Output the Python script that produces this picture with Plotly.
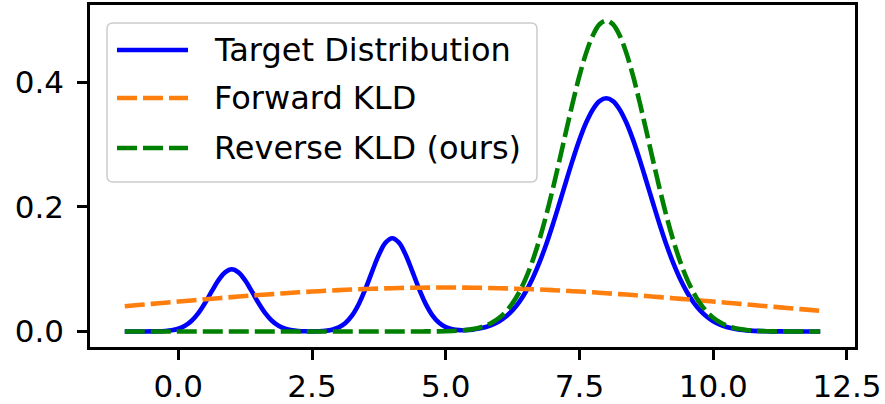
import plotly.graph_objects as go

# ---- data ----
# fine grid (step 1/8) for the target and reverse-KLD curves
x_fine = [-1.0, -0.875, -0.75, -0.625, -0.5, -0.375, -0.25, -0.125,
          0.0, 0.125, 0.25, 0.375, 0.5, 0.625, 0.75, 0.875,
          1.0, 1.125, 1.25, 1.375, 1.5, 1.625, 1.75, 1.875,
          2.0, 2.125, 2.25, 2.375, 2.5, 2.625, 2.75, 2.875,
          3.0, 3.125, 3.25, 3.375, 3.5, 3.625, 3.75, 3.875,
          4.0, 4.125, 4.25, 4.375, 4.5, 4.625, 4.75, 4.875,
          5.0, 5.125, 5.25, 5.375, 5.5, 5.625, 5.75, 5.875,
          6.0, 6.125, 6.25, 6.375, 6.5, 6.625, 6.75, 6.875,
          7.0, 7.125, 7.25, 7.375, 7.5, 7.625, 7.75, 7.875,
          8.0, 8.125, 8.25, 8.375, 8.5, 8.625, 8.75, 8.875,
          9.0, 9.125, 9.25, 9.375, 9.5, 9.625, 9.75, 9.875,
          10.0, 10.125, 10.25, 10.375, 10.5, 10.625, 10.75, 10.875,
          11.0, 11.125, 11.25, 11.375, 11.5, 11.625, 11.75, 11.875,
          12.0]

target = [0.0, 0.0, 0.0, 0.0, 0.0001, 0.0003, 0.0008, 0.0019,
          0.0044, 0.0091, 0.0172, 0.0294, 0.0456, 0.0642, 0.0820, 0.0949,
          0.0997, 0.0949, 0.0820, 0.0642, 0.0456, 0.0294, 0.0172, 0.0091,
          0.0044, 0.0019, 0.0008, 0.0003, 0.0002, 0.0004, 0.0011, 0.0029,
          0.0066, 0.0137, 0.0258, 0.0441, 0.0685, 0.0964, 0.1231, 0.1425,
          0.1496, 0.1425, 0.1231, 0.0964, 0.0685, 0.0442, 0.0259, 0.0139,
          0.0069, 0.0035, 0.0021, 0.0021, 0.0029, 0.0046, 0.0072, 0.0110,
          0.0164, 0.0240, 0.0342, 0.0475, 0.0645, 0.0854, 0.1103, 0.1391,
          0.1712, 0.2056, 0.2410, 0.2756, 0.3077, 0.3351, 0.3562, 0.3695,
          0.3740, 0.3695, 0.3562, 0.3351, 0.3077, 0.2756, 0.2410, 0.2056,
          0.1712, 0.1391, 0.1103, 0.0854, 0.0645, 0.0475, 0.0342, 0.0240,
          0.0164, 0.0110, 0.0072, 0.0046, 0.0028, 0.0017, 0.0010, 0.0006,
          0.0003, 0.0002, 0.0001, 0.0001, 0.0, 0.0, 0.0, 0.0,
          0.0]

reverse = [0.0, 0.0, 0.0, 0.0, 0.0, 0.0, 0.0, 0.0,
           0.0, 0.0, 0.0, 0.0, 0.0, 0.0, 0.0, 0.0,
           0.0, 0.0, 0.0, 0.0, 0.0, 0.0, 0.0, 0.0,
           0.0, 0.0, 0.0, 0.0, 0.0, 0.0, 0.0, 0.0,
           0.0, 0.0, 0.0, 0.0, 0.0, 0.0, 0.0, 0.0,
           0.0, 0.0, 0.0, 0.0, 0.0, 0.0001, 0.0001, 0.0002,
           0.0004, 0.0008, 0.0014, 0.0023, 0.0038, 0.0061, 0.0096, 0.0147,
           0.0219, 0.0320, 0.0456, 0.0634, 0.0860, 0.1139, 0.1471, 0.1855,
           0.2283, 0.2742, 0.3214, 0.3675, 0.4102, 0.4468, 0.4749, 0.4927,
           0.4987, 0.4927, 0.4749, 0.4468, 0.4102, 0.3675, 0.3214, 0.2742,
           0.2283, 0.1855, 0.1471, 0.1139, 0.0860, 0.0634, 0.0456, 0.0320,
           0.0219, 0.0147, 0.0096, 0.0061, 0.0038, 0.0023, 0.0014, 0.0008,
           0.0004, 0.0002, 0.0001, 0.0001, 0.0, 0.0, 0.0, 0.0,
           0.0]

# coarser grid (step 1/4) for the broad forward-KLD curve
x_coarse = [-1.0, -0.75, -0.5, -0.25, 0.0, 0.25, 0.5, 0.75, 1.0, 1.25, 1.5, 1.75,
            2.0, 2.25, 2.5, 2.75, 3.0, 3.25, 3.5, 3.75, 4.0, 4.25, 4.5, 4.75,
            5.0, 5.25, 5.5, 5.75, 6.0, 6.25, 6.5, 6.75, 7.0, 7.25, 7.5, 7.75,
            8.0, 8.25, 8.5, 8.75, 9.0, 9.25, 9.5, 9.75, 10.0, 10.25, 10.5, 10.75,
            11.0, 11.25, 11.5, 11.75, 12.0]

forward = [0.0405, 0.0424, 0.0443, 0.0461, 0.0480, 0.0498, 0.0516, 0.0534, 0.0551,
           0.0568, 0.0584, 0.0599, 0.0614, 0.0628, 0.0640, 0.0652, 0.0663, 0.0673,
           0.0681, 0.0688, 0.0694, 0.0699, 0.0702, 0.0704, 0.0705, 0.0704, 0.0702,
           0.0699, 0.0694, 0.0688, 0.0681, 0.0673, 0.0663, 0.0652, 0.0640, 0.0628,
           0.0614, 0.0599, 0.0584, 0.0568, 0.0551, 0.0534, 0.0516, 0.0498, 0.0480,
           0.0461, 0.0443, 0.0424, 0.0405, 0.0387, 0.0368, 0.0350, 0.0332]

series_names = ["Target Distribution", "Forward KLD", "Reverse KLD (ours)"]
x_ticks = [0.0, 2.5, 5.0, 7.5, 10.0, 12.5]
x_tick_text = ["0.0", "2.5", "5.0", "7.5", "10.0", "12.5"]
y_ticks = [0.0, 0.2, 0.4]
y_tick_text = ["0.0", "0.2", "0.4"]

# ---- styles ----
W, H = 885, 404
L, R, T, B = 90, 30, 5, 57
FONT = "DejaVu Sans"
FS_TICK = 31
FS_LEG = 32
LW = 4.6
DASH = "20px,6px"
colors = ["#0000ff", "#ff7f0e", "#008000"]
dashes = ["solid", DASH, DASH]

fig = go.Figure()
for xs, ys, name, c, d in zip([x_fine, x_coarse, x_fine], [target, forward, reverse],
                              series_names, colors, dashes):
    fig.add_trace(go.Scatter(x=xs, y=ys, mode="lines", name=name,
                             line=dict(color=c, width=LW, dash=d, shape="spline", smoothing=1.0),
                             showlegend=False, hoverinfo="skip"))

pw, ph = W - L - R, H - T - B


def px(xp):
    return (xp - L) / pw


def py(yp):
    return (H - B - yp) / ph


shapes = []
# rounded legend box
x0, x1, y0, y1, r = 107, 537, 23, 182, 6
path = (f"M {px(x0 + r)} {py(y0)} L {px(x1 - r)} {py(y0)} "
        f"Q {px(x1)} {py(y0)} {px(x1)} {py(y0 + r)} L {px(x1)} {py(y1 - r)} "
        f"Q {px(x1)} {py(y1)} {px(x1 - r)} {py(y1)} L {px(x0 + r)} {py(y1)} "
        f"Q {px(x0)} {py(y1)} {px(x0)} {py(y1 - r)} L {px(x0)} {py(y0 + r)} "
        f"Q {px(x0)} {py(y0)} {px(x0 + r)} {py(y0)} Z")
shapes.append(dict(type="path", path=path, xref="paper", yref="paper",
                   fillcolor="rgba(255,255,255,0.8)", line=dict(color="#cccccc", width=1.5),
                   layer="above"))
row_y = [50, 98, 148]
annotations = []
for yy, name, c, d in zip(row_y, series_names, colors, dashes):
    shapes.append(dict(type="line", xref="paper", yref="paper",
                       x0=px(117), x1=px(188), y0=py(yy), y1=py(yy),
                       line=dict(color=c, width=LW, dash=d), layer="above"))
    annotations.append(dict(x=px(212), y=py(yy), xref="paper", yref="paper",
                            text=name, showarrow=False, xanchor="left", yanchor="middle",
                            font=dict(family=FONT, size=FS_LEG, color="black")))

axis_common = dict(showline=True, linecolor="black", linewidth=2.5, mirror=True,
                   ticks="outside", ticklen=10, tickwidth=2.5, tickcolor="black",
                   showgrid=False, zeroline=False, automargin=False,
                   tickfont=dict(family=FONT, size=FS_TICK, color="black"))

fig.update_layout(
    width=W, height=H,
    margin=dict(l=L, r=R, t=T, b=B, pad=0, autoexpand=False),
    paper_bgcolor="white", plot_bgcolor="white",
    hovermode=False,
    xaxis=dict(range=[-1.65, 12.65], tickvals=x_ticks, ticktext=x_tick_text, **axis_common),
    yaxis=dict(range=[-0.0249, 0.5236], tickvals=y_ticks, ticktext=y_tick_text,
               ticklabelstandoff=7, **axis_common),
    shapes=shapes, annotations=annotations,
)

fig.write_html("out.html", config={"displayModeBar": False},
               post_script="document.body.style.margin='0px';")
